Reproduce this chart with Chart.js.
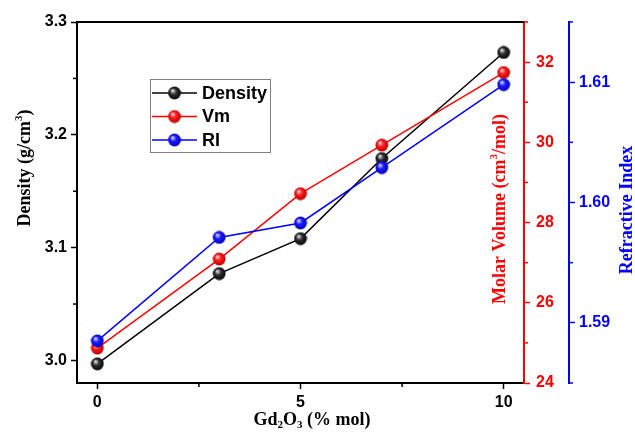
<!DOCTYPE html>
<html>
<head>
<meta charset="utf-8">
<script src="https://cdn.jsdelivr.net/npm/chart.js@4.4.1/dist/chart.umd.min.js"></script>
<style>
  html, body { margin: 0; background: #fff; }
  #wrap { width: 635px; height: 432px; }
</style>
</head>
<body>
<div id="wrap"><canvas id="chart"></canvas></div>
<script>
// values
const gd2o3 = [0, 3, 5, 7, 10];
const density = [2.997, 3.077, 3.108, 3.179, 3.273];
const molarVol = [24.87, 27.09, 28.72, 29.93, 31.74];
const refIndex = [1.5885, 1.5971, 1.5983, 1.6029, 1.6098];

const xTicks = [0, 5, 10];
const xMinor = [2.5, 7.5];
const densTicks = [3.0, 3.1, 3.2, 3.3];
const densMinor = [3.05, 3.15, 3.25];
const vmTicks = [24, 26, 28, 30, 32];
const vmMinor = [25, 27, 29, 31, 33];
const riTicks = [1.59, 1.60, 1.61];
const riMinor = [1.585, 1.595, 1.605, 1.615];

// shaded ball used as the point marker
function ball(light, mid, dark) {
    const c = document.createElement('canvas');
    c.width = c.height = 14;
    const g = c.getContext('2d');
    const gr = g.createRadialGradient(5, 4.5, 0.5, 7, 7, 7);
    gr.addColorStop(0, light);
    gr.addColorStop(0.4, mid);
    gr.addColorStop(1, dark);
    g.fillStyle = gr;
    g.beginPath();
    g.arc(7, 7, 6.4, 0, Math.PI * 2);
    g.fill();
    return c;
}
const balls = {
    black: ball('#e0e0e0', '#303030', '#000'),
    red: ball('#ffd0d0', '#ff1a1a', '#b00000'),
    blue: ball('#d0d0ff', '#1a1aff', '#0000b0')
};

const pts = vals => vals.map((v, i) => ({ x: gd2o3[i], y: v }));
const setTicks = vals => s => { s.ticks = vals.map(v => ({ value: v })); };
const tickFont = { family: '"Liberation Sans", Arial', size: 16, weight: 'bold' };

function axis(color, min, max, vals, digits, width, pos, pad) {
    return {
        type: 'linear', position: pos, min: min, max: max,
        afterBuildTicks: setTicks(vals),
        afterFit: s => { s.width = width; },
        border: { color: color, width: 2 },
        grid: { drawOnChartArea: false, tickLength: 6, tickWidth: 1.5, tickColor: color },
        ticks: { font: tickFont, color: color, padding: pad, callback: v => v.toFixed(digits) }
    };
}

function rich(ctx, parts, x, y, rot, color, size) {
    ctx.save();
    ctx.translate(x, y);
    ctx.rotate(rot);
    ctx.fillStyle = color;
    ctx.textBaseline = 'middle';
    ctx.textAlign = 'left';
    const fonts = parts.map(p => 'bold ' + (p[1] ? Math.round(size * 0.62) : size) + 'px "Liberation Serif", "Times New Roman", serif');
    const widths = parts.map((p, i) => { ctx.font = fonts[i]; return ctx.measureText(p[0]).width; });
    let cx = -widths.reduce((a, b) => a + b, 0) / 2;
    parts.forEach((p, i) => {
        ctx.font = fonts[i];
        const dy = p[1] === 1 ? -size * 0.33 : p[1] === -1 ? size * 0.28 : 0;
        ctx.fillText(p[0], cx, dy);
        cx += widths[i];
    });
    ctx.restore();
}

const decor = {
    id: 'decor',
    afterDraw(chart) {
        const ctx = chart.ctx, a = chart.chartArea, sc = chart.scales;
        ctx.save();
        // top frame
        ctx.strokeStyle = '#000';
        ctx.lineWidth = 2;
        ctx.beginPath();
        ctx.moveTo(a.left - 1, a.top);
        ctx.lineTo(a.right, a.top);
        ctx.stroke();

        // minor ticks
        ctx.lineWidth = 1.5;
        const minor = (scale, vals, color, dir) => {
            ctx.strokeStyle = color;
            vals.forEach(v => {
                const p = scale.getPixelForValue(v);
                ctx.beginPath();
                if (dir === 'down') { ctx.moveTo(p, a.bottom); ctx.lineTo(p, a.bottom + 4); }
                else {
                    const x0 = dir === 'left' ? scale.right : scale.left;
                    ctx.moveTo(x0, p); ctx.lineTo(x0 + (dir === 'left' ? -4 : 4), p);
                }
                ctx.stroke();
            });
        };
        minor(sc.x, xMinor, '#000', 'down');
        minor(sc.y, densMinor, '#000', 'left');
        minor(sc.y1, vmMinor, '#ff0000', 'right');
        minor(sc.y2, riMinor, '#0000ff', 'right');

        // axis titles
        rich(ctx, [['Density (g/cm', 0], ['3', 1], [')', 0]], 25, 168, -Math.PI / 2, '#000', 18);
        rich(ctx, [['Molar Volume (cm', 0], ['3', 1], ['/mol)', 0]], 500, 209, -Math.PI / 2, '#ff0000', 18);
        rich(ctx, [['Refractive Index', 0]], 627, 210, -Math.PI / 2, '#0000ff', 18);
        rich(ctx, [['Gd', 0], ['2', -1], ['O', 0], ['3', -1], [' (% mol)', 0]], 312, 420, 0, '#000', 18);

        // legend box
        ctx.fillStyle = '#fff';
        ctx.fillRect(150.5, 79.5, 120, 73);
        ctx.strokeStyle = '#808080';
        ctx.lineWidth = 1;
        ctx.strokeRect(150.5, 79.5, 120, 73);
        const rows = [93, 116.5, 140];
        chart.data.datasets.forEach((ds, i) => {
            const y = rows[i];
            ctx.strokeStyle = ds.borderColor;
            ctx.lineWidth = 1.5;
            ctx.beginPath();
            ctx.moveTo(152, y);
            ctx.lineTo(197, y);
            ctx.stroke();
            ctx.drawImage(ds.pointStyle, 174.5 - 7, y - 7);
            ctx.fillStyle = '#000';
            ctx.font = 'bold 18px "Liberation Sans", Arial';
            ctx.textBaseline = 'middle';
            ctx.textAlign = 'left';
            ctx.fillText(ds.label, 202, y + 1);
        });
        ctx.restore();
    }
};

new Chart(document.getElementById('chart'), {
    type: 'line',
    data: {
        datasets: [
            { label: 'Density', data: pts(density), yAxisID: 'y', order: 2,
              borderColor: '#000000', pointStyle: balls.black },
            { label: 'Vm', data: pts(molarVol), yAxisID: 'y1', order: 1,
              borderColor: '#ff0000', pointStyle: balls.red },
            { label: 'RI', data: pts(refIndex), yAxisID: 'y2', order: 0,
              borderColor: '#0000ff', pointStyle: balls.blue }
        ]
    },
    options: {
        responsive: true,
        maintainAspectRatio: false,
        animation: false,
        devicePixelRatio: 1,
        layout: { padding: { top: 22, left: 0, right: 0, bottom: 0 } },
        elements: {
            line: { borderWidth: 1.5, tension: 0 },
            point: { radius: 6, hoverRadius: 6 }
        },
        plugins: { legend: { display: false }, tooltip: { enabled: false } },
        scales: {
            x: {
                type: 'linear', min: -0.5, max: 10.5,
                afterBuildTicks: setTicks(xTicks),
                afterFit: s => { s.height = 49; },
                border: { color: '#000', width: 2 },
                grid: { drawOnChartArea: false, tickLength: 6, tickWidth: 1.5, tickColor: '#000' },
                ticks: { font: tickFont, color: '#000', padding: 4, maxRotation: 0, callback: v => String(v) }
            },
            y: axis('#000000', 2.98, 3.3, densTicks, 1, 77, 'left', 4),
            y1: axis('#ff0000', 24, 33, vmTicks, 0, 45, 'right', 6),
            y2: axis('#0000ff', 1.585, 1.615, riTicks, 2, 66, 'right', 4)
        }
    },
    plugins: [decor]
});
</script>
</body>
</html>
